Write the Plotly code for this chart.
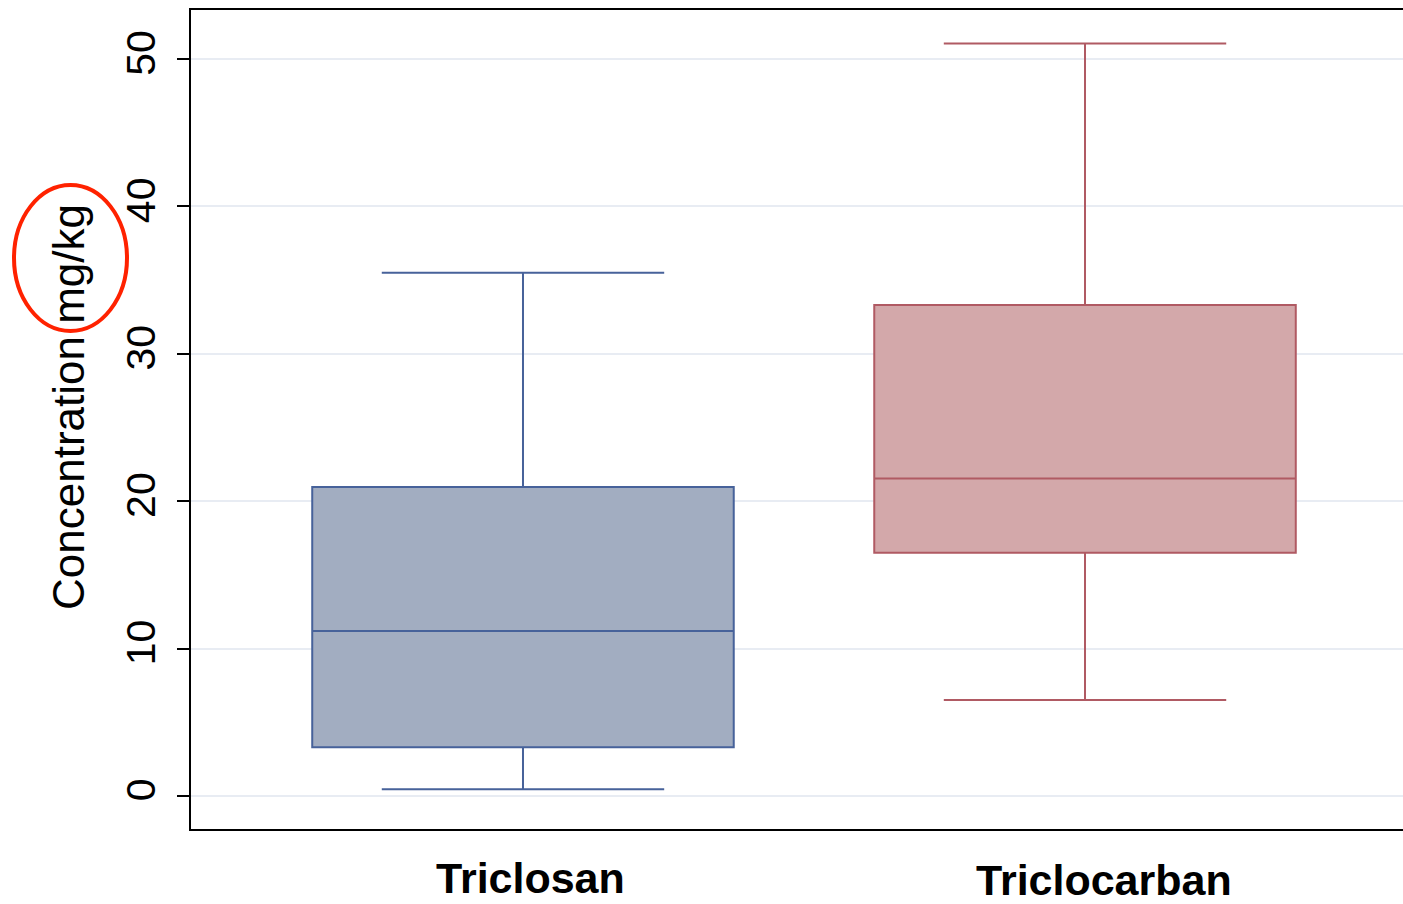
import plotly.graph_objects as go

# Data (mg/kg)
categories = ["Triclosan", "Triclocarban"]
lower_fence = [0.45, 6.51]
q1 = [3.30, 16.51]
median = [11.19, 21.55]
q3 = [20.96, 33.31]
upper_fence = [35.5, 51.06]
y_ticks = [0, 10, 20, 30, 40, 50]

line_colors = ["#47629A", "#B05A63"]
fill_colors = ["#A2ADC1", "#D3A8AA"]

W, H = 1403, 904
L, R, T, B = 191, 0, 10, 75
pw, ph = W - L - R, H - T - B

def px_x(px):
    return (px - L) / pw

def px_y(py):
    return (H - B - py) / ph

fig = go.Figure()
for i, cat in enumerate(categories):
    fig.add_trace(go.Box(
        x=[cat],
        q1=[q1[i]], median=[median[i]], q3=[q3[i]],
        lowerfence=[lower_fence[i]], upperfence=[upper_fence[i]],
        width=0.75, whiskerwidth=0.67,
        line=dict(color=line_colors[i], width=2),
        fillcolor=fill_colors[i],
        boxpoints=False, showlegend=False, hoverinfo="skip",
    ))

font_family = "Liberation Sans, Arial, Helvetica, sans-serif"

fig.update_layout(
    width=W, height=H,
    margin=dict(l=L, r=R, t=T, b=B, pad=0),
    paper_bgcolor="white", plot_bgcolor="white",
    font=dict(family=font_family, color="black"),
    showlegend=False,
    xaxis=dict(
        type="category", range=[-0.5907, 1.5658],
        showticklabels=False, ticks="", showgrid=False, zeroline=False,
        showline=True, linecolor="black", linewidth=2, mirror=True,
    ),
    yaxis=dict(
        range=[-2.24, 53.33], tickvals=y_ticks, ticktext=[str(v) for v in y_ticks],
        tickangle=-90, tickfont=dict(size=41, family=font_family, color="black"),
        ticks="outside", ticklen=12, tickwidth=2, tickcolor="black",
        showgrid=True, gridcolor="#E8ECF3", gridwidth=2, zeroline=False,
        showline=True, linecolor="black", linewidth=2, mirror=False,
        ticklabelstandoff=6,
    ),
)

# x category labels
x_shifts = [8, 19]
y_centers = [878, 880]
for i, cat in enumerate(categories):
    fig.add_annotation(
        x=cat, xref="x", y=px_y(y_centers[i]), yref="paper",
        text=f"<b>{cat}</b>", showarrow=False, xshift=x_shifts[i],
        xanchor="center", yanchor="middle",
        font=dict(size=43, family=font_family, color="black"),
    )

# y axis title
fig.add_annotation(
    x=px_x(68), xref="paper", y=px_y(407), yref="paper",
    text="Concentration mg/kg", textangle=-90, showarrow=False,
    xanchor="center", yanchor="middle",
    font=dict(size=44, family=font_family, color="black"),
)

# red ellipse highlighting the unit
fig.add_shape(
    type="circle", xref="paper", yref="paper",
    x0=px_x(14), x1=px_x(127), y0=px_y(331), y1=px_y(185),
    line=dict(color="#FF2200", width=4), fillcolor="rgba(0,0,0,0)",
    layer="above",
)

fig.write_html("out.html")
